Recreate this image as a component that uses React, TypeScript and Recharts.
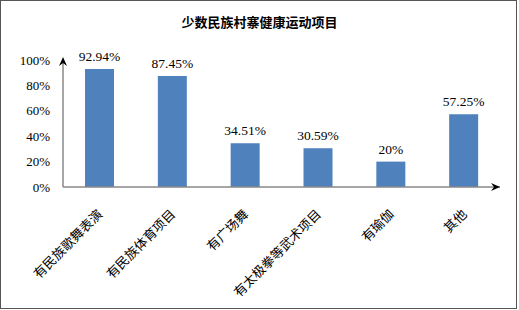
import React from "react";
import { Bar, BarChart, LabelList, XAxis, YAxis } from "recharts";

const categories = [
  "有民族歌舞表演",
  "有民族体育项目",
  "有广场舞",
  "有太极拳等武术项目",
  "有瑜伽",
  "其他",
];
const shares = [92.94, 87.45, 34.51, 30.59, 20, 57.25];
const yTicks = [0, 20, 40, 60, 80, 100];

const data = categories.map((name, i) => ({ name, value: shares[i] }));

const W = 519;
const H = 310;
const margin = { top: 60, right: 19, left: 0, bottom: 0 };
const yAxisWidth = 63;
const xAxisHeight = 123;
const plotLeft = margin.left + yAxisWidth;
const plotRight = W - margin.right;
const plotTop = margin.top;
const plotBottom = H - margin.bottom - xAxisHeight;

const serif = "Liberation Serif, DejaVu Serif, serif";
const cjk = "Noto Sans CJK SC, sans-serif";

function CategoryTick(props: any) {
  const { x, y, payload } = props;
  return (
    <text
      transform={`translate(${x + 4},${y + 28}) rotate(-45)`}
      textAnchor="end"
      fontSize={13}
      fontFamily={cjk}
      fill="#000"
    >
      {payload.value}
    </text>
  );
}

export default function App() {
  return (
    <div style={{ position: "absolute", left: 0, top: 0, width: W, height: H, background: "#fff", fontFamily: serif }}>
      <div
        style={{
          position: "absolute",
          left: 0,
          top: 13,
          width: W,
          textAlign: "center",
          fontFamily: cjk,
          fontSize: 13,
          fontWeight: "bold",
          lineHeight: "18px",
          color: "#000",
        }}
      >
        少数民族村寨健康运动项目
      </div>
      <BarChart
        width={W}
        height={H}
        data={data}
        margin={margin}
        style={{ position: "absolute", left: 0, top: 0 }}
      >
        <XAxis
          dataKey="name"
          height={xAxisHeight}
          interval={0}
          tickLine={false}
          tickSize={0}
          tickMargin={0}
          axisLine={{ stroke: "#888", strokeWidth: 1.5 }}
          tick={<CategoryTick />}
        />
        <YAxis
          width={yAxisWidth}
          domain={[0, 100]}
          ticks={yTicks}
          tickFormatter={(v: number) => `${v}%`}
          tickLine={false}
          tickSize={0}
          tickMargin={13}
          axisLine={{ stroke: "#888", strokeWidth: 1.5 }}
          tick={{ fill: "#000", fontSize: 13, fontFamily: serif }}
        />
        <Bar dataKey="value" fill="#4F81BD" barSize={29} isAnimationActive={false}>
          <LabelList
            dataKey="value"
            position="top"
            offset={8}
            fontFamily={serif}
            fontSize={13.5}
            fill="#000"
            formatter={(v: any) => `${v}%`}
          />
        </Bar>
      </BarChart>
      {/* axis arrowheads */}
      <svg
        width={W}
        height={H}
        style={{ position: "absolute", left: 0, top: 0, pointerEvents: "none" }}
      >
        <path
          d={`M${plotLeft},${plotTop - 3} l-4,9 l4,-3 l4,3 z`}
          fill="#000"
        />
        <path
          d={`M${plotRight},${plotBottom} l-9,-4 l3,4 l-3,4 z`}
          fill="#000"
        />
      </svg>
      <div
        style={{
          position: "absolute",
          left: 0,
          top: 0,
          width: 517,
          height: 309,
          border: "1px solid #555",
          boxSizing: "border-box",
          pointerEvents: "none",
        }}
      />
    </div>
  );
}
